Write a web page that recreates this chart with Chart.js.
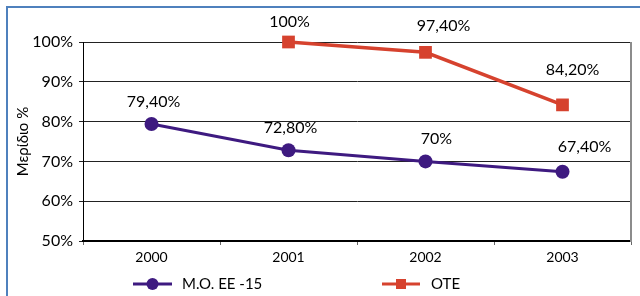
<!DOCTYPE html>
<html>
<head>
<meta charset="utf-8">
<script src="https://cdn.jsdelivr.net/npm/chart.js@4"></script>
<style>
    html, body { margin: 0; padding: 0; background: #fff; }
    #chart_div { display: block; }
</style>
</head>
<body>
<canvas id="chart_div" width="640" height="296"></canvas>
<script>
// chart values
const years = ['2000', '2001', '2002', '2003'];
const mo_ee15 = [79.4, 72.8, 70, 67.4];
const ote = [null, 100, 97.4, 84.2];
const mo_ee15_labels = ['79,40%', '72,80%', '70%', '67,40%'];
const ote_labels = [null, '100%', '97,40%', '84,20%'];
const y_ticks = [50, 60, 70, 80, 90, 100];

const PURPLE = 'rgb(62, 26, 128)';
const RED = 'rgb(214, 66, 46)';
const FONT = 'Lato, "Open Sans", sans-serif';

// label nudges relative to each point (like Excel placed them)
const label_nudge = {
    0: [[2, -22], [2, -22], [11, -23], [22, -25]],
    1: [[0, 0], [1, -20], [18, -27], [10, -35]]
};

const frame_plugin = {
    id: 'frame_plugin',
    beforeDraw: (chart) => {
        const ctx = chart.ctx;
        ctx.save();
        ctx.fillStyle = '#fff';
        ctx.fillRect(0, 0, chart.width, chart.height);
        ctx.strokeStyle = 'rgb(79, 129, 189)';
        ctx.lineWidth = 2;
        ctx.beginPath();
        ctx.moveTo(7, chart.height + 5);
        ctx.lineTo(7, 7);
        ctx.lineTo(chart.width + 5, 7);
        ctx.stroke();
        ctx.restore();
    },
    afterDatasetsDraw: (chart) => {
        const ctx = chart.ctx;
        const area = chart.chartArea;
        ctx.save();
        // right border of plot area
        ctx.strokeStyle = '#8c8c8c';
        ctx.lineWidth = 2;
        ctx.beginPath();
        ctx.moveTo(area.right, area.top);
        ctx.lineTo(area.right, area.bottom + 1);
        ctx.stroke();

        // value labels
        ctx.fillStyle = '#000';
        ctx.font = '16px ' + FONT;
        ctx.textAlign = 'center';
        ctx.textBaseline = 'middle';
        chart.data.datasets.forEach((ds, di) => {
            const meta = chart.getDatasetMeta(di);
            meta.data.forEach((pt, i) => {
                const txt = ds.value_labels[i];
                if (!txt) return;
                const n = label_nudge[di][i];
                ctx.fillText(txt, pt.x + n[0], pt.y + n[1]);
            });
        });

        // legend: line with marker in the middle
        const ly = 284;
        ctx.lineWidth = 3;
        ctx.strokeStyle = PURPLE;
        ctx.beginPath();
        ctx.moveTo(133, ly);
        ctx.lineTo(172, ly);
        ctx.stroke();
        ctx.fillStyle = PURPLE;
        ctx.beginPath();
        ctx.arc(152.5, ly, 6, 0, Math.PI * 2);
        ctx.fill();

        ctx.strokeStyle = RED;
        ctx.beginPath();
        ctx.moveTo(382, ly);
        ctx.lineTo(420, ly);
        ctx.stroke();
        ctx.fillStyle = RED;
        ctx.fillRect(396, ly - 5, 10, 10);

        ctx.fillStyle = '#000';
        ctx.font = '15px ' + FONT;
        ctx.textAlign = 'left';
        ctx.fillText(chart.data.datasets[0].label, 182, ly);
        ctx.fillText(chart.data.datasets[1].label, 431, ly);
        ctx.restore();
    }
};

const config = {
    type: 'line',
    data: {
        labels: years,
        datasets: [
            {
                label: 'M.O. EE -15',
                data: mo_ee15,
                value_labels: mo_ee15_labels,
                borderColor: PURPLE,
                backgroundColor: PURPLE,
                borderWidth: 3,
                pointStyle: 'circle',
                pointRadius: 7,
                pointHoverRadius: 7,
                pointBorderWidth: 0,
                clip: false
            },
            {
                label: 'OTE',
                data: ote,
                value_labels: ote_labels,
                borderColor: RED,
                backgroundColor: RED,
                borderWidth: 3.5,
                pointStyle: 'rect',
                pointRadius: 9,
                pointHoverRadius: 9,
                pointBorderWidth: 0,
                clip: false
            }
        ]
    },
    options: {
        responsive: false,
        animation: false,
        layout: {
            padding: { left: 10, top: 42, right: 4, bottom: 0 }
        },
        scales: {
            x: {
                offset: true,
                afterFit: (scale) => { scale.height = 55; },
                grid: {
                    display: true,
                    offset: true,
                    drawOnChartArea: false,
                    drawTicks: true,
                    tickLength: 4,
                    color: '#666'
                },
                border: { color: '#000', width: 2 },
                ticks: {
                    color: '#000',
                    padding: 4,
                    font: { family: FONT, size: 14 }
                }
            },
            y: {
                min: 50,
                max: 100,
                afterFit: (scale) => { scale.width = 73; },
                afterBuildTicks: (scale) => {
                    scale.ticks = y_ticks.map(v => ({ value: v }));
                },
                grid: {
                    color: '#222',
                    lineWidth: 1,
                    tickLength: 4
                },
                border: { color: '#000', width: 1 },
                ticks: {
                    color: '#000',
                    padding: 6,
                    font: { family: FONT, size: 16 },
                    callback: (v) => v + '%'
                },
                title: {
                    display: true,
                    text: 'Μερίδιο %',
                    color: '#000',
                    font: { family: FONT, size: 15 },
                    padding: { top: 4, bottom: 2 }
                }
            }
        },
        plugins: {
            legend: { display: false },
            tooltip: { enabled: false }
        }
    },
    plugins: [frame_plugin]
};

new Chart(document.getElementById('chart_div').getContext('2d'), config);
</script>
</body>
</html>
